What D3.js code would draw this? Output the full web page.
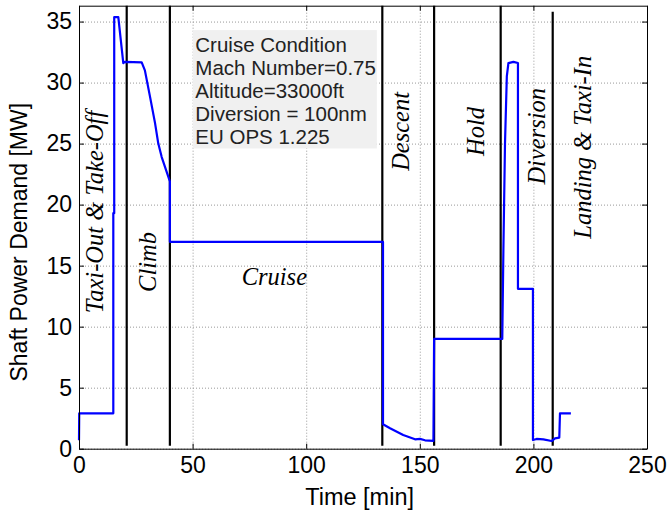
<!DOCTYPE html>
<html>
<head>
<meta charset="utf-8">
<script src="https://cdn.jsdelivr.net/npm/d3@7"></script>
<style>
  body { margin: 0; background: #fff; }
  .axis text { font-family: "Liberation Sans", Arial, sans-serif; font-size: 23px; fill: #000; }
  .axis path, .axis line { stroke: #000; }
  .grid line { stroke: #999; stroke-dasharray: 1,2; }
  .grid path { stroke: none; }
  .phase { font-family: "Liberation Serif", "Times New Roman", serif; font-style: italic; font-size: 24.5px; fill: #000; }
</style>
</head>
<body>
<div id="chart"></div>
<script>
(function () {

  // power demand trace
  var time = [0, 0.1, 15.1, 15.1, 15.5, 15.5, 17.3, 19.5, 20.2, 27.6, 29.0, 31.25, 33.45, 34.9, 36.4, 40.0,
    40.0, 133.8, 133.8, 136.9, 142.7, 147.9, 150.1, 152.3, 156.0, 156.3, 186.3, 186.8, 187.5, 188.3, 189.0,
    191.2, 193.2, 193.2, 199.8, 199.8, 201.4, 204.4, 208.0, 209.5, 211.4, 211.7, 216.5]
  var power = [0.7, 2.9, 2.9, 19.3, 19.3, 35.36, 35.36, 31.6, 31.7, 31.65, 31.0, 28.85, 26.7, 25.0, 23.9, 21.9,
    16.95, 16.95, 2.0, 1.67, 1.12, 0.77, 0.8, 0.69, 0.64, 9.0, 9.0, 16.4, 25.0, 30.5, 31.6,
    31.7, 31.6, 13.1, 13.1, 0.71, 0.8, 0.77, 0.63, 0.85, 0.91, 2.9, 2.9]

  // phase boundaries [min]
  var boundaries = [21, 40, 133.5, 156.3, 185.6, 208.5]
  var phaseNames = ['Taxi-Out & Take-Off', 'Climb', 'Cruise', 'Descent', 'Hold', 'Diversion', 'Landing & Taxi-In']

  var xTicks = [0, 50, 100, 150, 200, 250]
  var yTicks = [0, 5, 10, 15, 20, 25, 30, 35]

  var infoLines = ['Cruise Condition', 'Mach Number=0.75', 'Altitude=33000ft', 'Diversion = 100nm', 'EU OPS 1.225']

  var margin = {top: 5.7, right: 21, bottom: 63.3, left: 79}
  var width = 668 - margin.left - margin.right,
      height = 512 - margin.top - margin.bottom

  var svg = d3.select('#chart').append('svg')
    .attr('width', 668)
    .attr('height', 512)
    .append('g')
    .attr('transform', 'translate(' + margin.left + ',' + margin.top + ')')

  var x = d3.scaleLinear().domain([0, 250]).range([0, width])
  var y = d3.scaleLinear().domain([0, 36.3]).range([height, 0])

  // grid
  svg.append('g').attr('class', 'grid')
    .attr('transform', 'translate(0,' + height + ')')
    .call(d3.axisBottom(x).tickValues(xTicks).tickSize(-height).tickFormat(''))
  svg.append('g').attr('class', 'grid')
    .call(d3.axisLeft(y).tickValues(yTicks).tickSize(-width).tickFormat(''))

  // info box
  var boxG = svg.append('g')
  boxG.append('rect')
    .attr('x', x(50.1)).attr('y', y(34.3))
    .attr('width', x(131.1) - x(50.1)).attr('height', y(24.6) - y(34.3))
    .attr('fill', '#f0f0f0')
  boxG.selectAll('text').data(infoLines).enter().append('text')
    .attr('x', x(51.2))
    .attr('y', (d, i) => y(34.3) + 22 + i * 23.1)
    .attr('font-family', '"Liberation Sans", Arial, sans-serif')
    .attr('font-size', '20.5px')
    .attr('fill', '#222')
    .text(d => d)

  // phase separators
  svg.selectAll('.sep').data(boundaries).enter().append('line')
    .attr('class', 'sep')
    .attr('x1', d => x(d)).attr('x2', d => x(d))
    .attr('y1', y(0.25))
    .attr('y2', (d, i) => i === boundaries.length - 1 ? y(35.8) : 0)
    .attr('stroke', '#000').attr('stroke-width', 2.2)

  // power trace
  var line = d3.line().x(d => x(d[0])).y(d => y(d[1]))
  svg.append('path')
    .datum(d3.zip(time, power))
    .attr('d', line)
    .attr('fill', 'none')
    .attr('stroke', '#0000ff')
    .attr('stroke-width', 2.2)
    .attr('stroke-linejoin', 'round')

  // phase labels (vertical ones rotated)
  var labelPos = [[10.6, 19.4], [33.8, 15.3], [71.6, 13.4], [145.3, 26.0], [178.3, 26.0], [205.1, 25.6], [225.4, 24.7]]
  phaseNames.forEach(function (name, i) {
    var p = labelPos[i]
    var t = svg.append('text').attr('class', 'phase').text(name)
    if (name === 'Cruise') {
      t.attr('x', x(p[0])).attr('y', y(p[1]))
    } else {
      t.attr('text-anchor', 'middle')
        .attr('transform', 'translate(' + x(p[0]) + ',' + y(p[1]) + ') rotate(-90)')
    }
  })

  // axes with inward ticks on all sides
  svg.append('g').attr('class', 'axis')
    .attr('transform', 'translate(0,' + height + ')')
    .call(d3.axisBottom(x).tickValues(xTicks).tickSizeInner(-5).tickSizeOuter(0).tickPadding(8))
  svg.append('g').attr('class', 'axis')
    .call(d3.axisLeft(y).tickValues(yTicks).tickSizeInner(-5).tickSizeOuter(0).tickPadding(7))
  svg.append('g').attr('class', 'axis')
    .call(d3.axisTop(x).tickValues(xTicks).tickSizeInner(-5).tickSizeOuter(0).tickFormat(''))
  svg.append('g').attr('class', 'axis')
    .attr('transform', 'translate(' + width + ',0)')
    .call(d3.axisRight(y).tickValues(yTicks).tickSizeInner(-5).tickSizeOuter(0).tickFormat(''))

  svg.append('text')
    .attr('x', x(123.5)).attr('y', height + 56)
    .attr('text-anchor', 'middle')
    .attr('font-family', '"Liberation Sans", Arial, sans-serif')
    .attr('font-size', '23.5px')
    .text('Time [min]')

  svg.append('text')
    .attr('transform', 'translate(' + (-52) + ',' + (height / 2 + 15) + ') rotate(-90)')
    .attr('text-anchor', 'middle')
    .attr('font-family', '"Liberation Sans", Arial, sans-serif')
    .attr('font-size', '23px')
    .text('Shaft Power Demand [MW]')

})()
</script>
</body>
</html>
